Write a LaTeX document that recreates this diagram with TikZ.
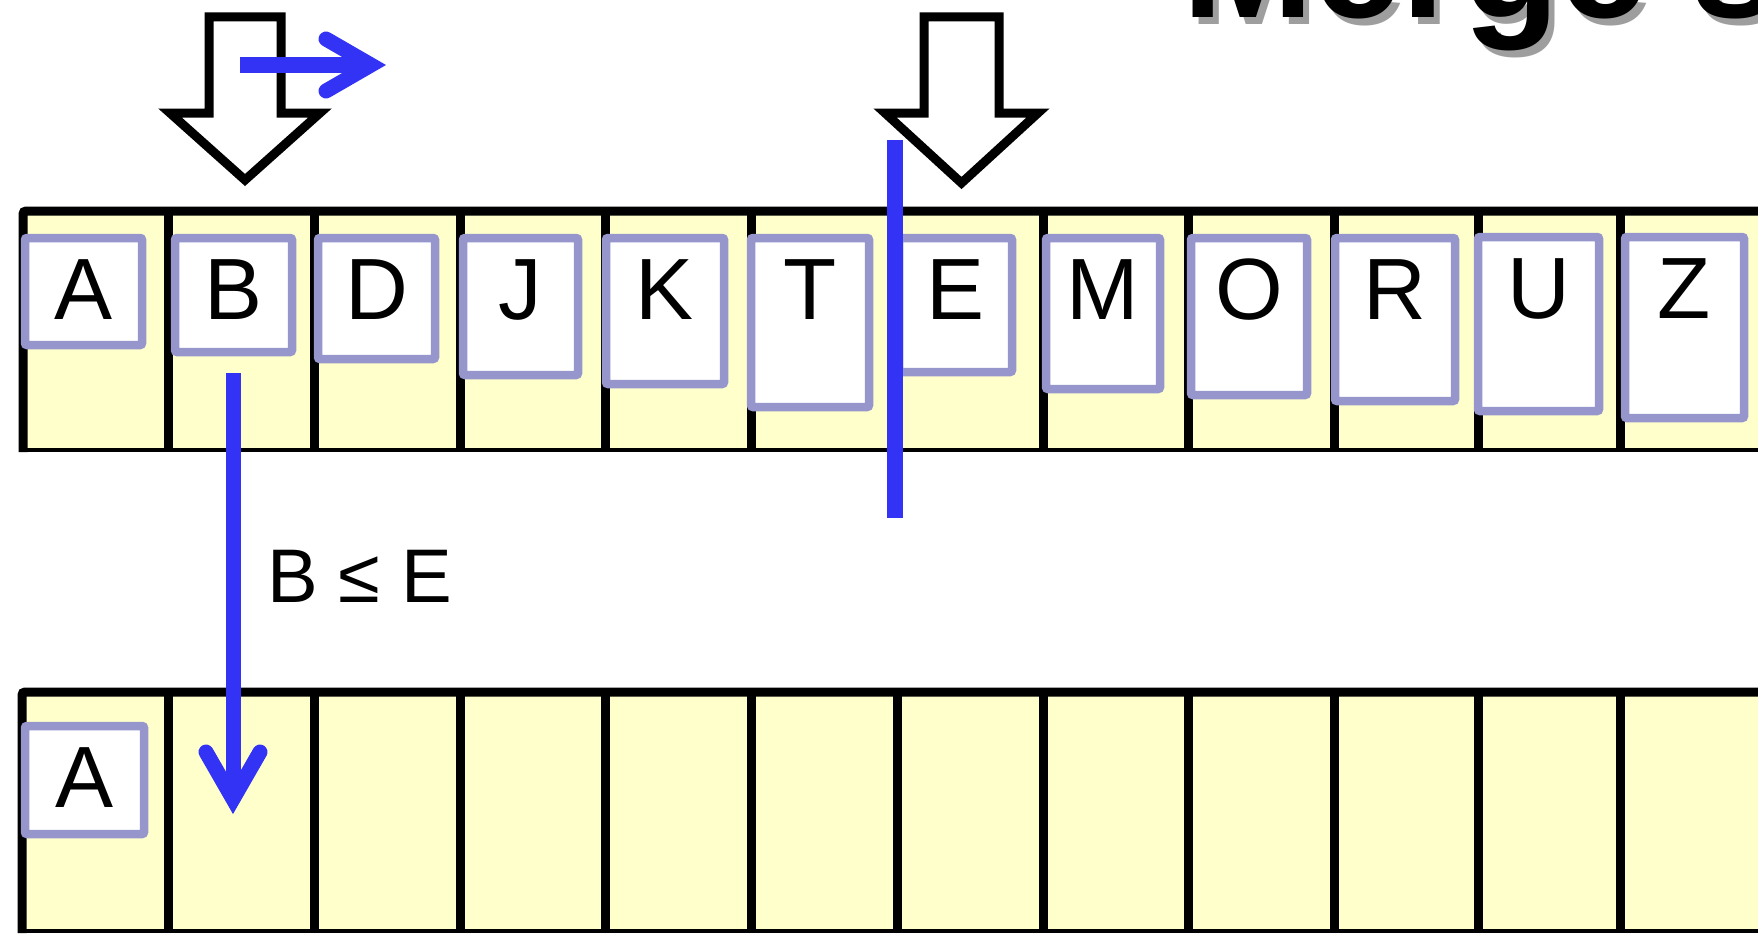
\documentclass[tikz,border=0pt]{standalone}
\usepackage{fontspec}
\setmainfont{Liberation Sans}
\definecolor{cellyellow}{RGB}{255,255,204}
\definecolor{lav}{RGB}{150,150,204}
\definecolor{pblue}{RGB}{51,51,245}
\tikzset{
  arrline/.style={line width=9pt, draw=black},
  lbox/.style={draw=lav, fill=white, line width=8.5pt, rounded corners=2pt,
    inner sep=0pt, outer sep=0pt, anchor=north west, text height=81pt,
    font=\fontsize{87}{87}\selectfont},
  blockarrow/.style={draw=black, fill=white, line width=9pt, line join=miter},
  blueshaft/.style={draw=pblue, line width=15pt},
  bluehead/.style={draw=pblue, line width=15pt, line cap=round, line join=miter},
  titlefont/.style={inner sep=0pt, anchor=base west, font=\fontsize{158}{158}\selectfont\bfseries},
}
\begin{document}
\begin{tikzpicture}[x=1pt,y=-1pt]
\useasboundingbox (0,0) rectangle (1758,934);
\clip (0,0) rectangle (1758,934);

% title (cut off at the top)
\node[titlefont, text=black!38] (titleshadow) at (1188,25) {Merge s};
\node[titlefont, text=black] (title) at (1182,18) {Merge s};

% top array
\fill[cellyellow] (22,211) rectangle (1775,450);
\foreach \x in {168,314,460,605,751,897,1043,1188,1334,1478,1620}
  \draw[arrline] (\x,211) -- (\x,450);
\draw[line width=4pt] (19,450) -- (1775,450);
\draw[line width=9pt, rounded corners=3pt] (23,452) -- (23,211) -- (1775,211);

% bottom array
\fill[cellyellow] (22,692) rectangle (1775,931);
\foreach \x in {168,314,460,605,751,897,1043,1188,1334,1478,1620}
  \draw[arrline] (\x,692) -- (\x,931);
\draw[line width=4pt] (19,931) -- (1775,931);
\draw[line width=9pt, rounded corners=3pt] (22,933) -- (22,692) -- (1775,692);

% letter boxes, top array
\node[lbox, minimum width=117pt, text depth=26pt] (tA) at (25,238) {A};
\node[lbox, minimum width=117pt, text depth=33pt] (tB) at (175,238) {B};
\node[lbox, minimum width=117pt, text depth=40pt] (tD) at (318,238) {D};
\node[lbox, minimum width=115pt, text depth=56pt] (tJ) at (463,238) {J};
\node[lbox, minimum width=118pt, text depth=65pt] (tK) at (606,238) {K};
\node[lbox, minimum width=118pt, text depth=88pt] (tT) at (751,238) {T};
\node[lbox, minimum width=113pt, text depth=53pt] (tE) at (899,238) {E};
\node[lbox, minimum width=114pt, text depth=70pt] (tM) at (1046,238) {M};
\node[lbox, minimum width=116pt, text depth=76pt] (tO) at (1191,238) {O};
\node[lbox, minimum width=120pt, text depth=82pt] (tR) at (1335,238) {R};
\node[lbox, minimum width=121pt, text depth=93pt] (tU) at (1478,237) {U};
\node[lbox, minimum width=119pt, text depth=100pt] (tZ) at (1625,237) {Z};

% letter box, bottom array
\node[lbox, minimum width=119pt, text depth=27pt] (bA) at (25,726) {A};

% comparison label
\node[inner sep=0pt, anchor=base west, font=\fontsize{76}{76}\selectfont] (cmp) at (267,602) {B ≤ E};

% hollow block arrows (pointers)
\draw[blockarrow] (209,17) -- (281,17) -- (281,113) -- (320,113) -- (245,180)
  -- (170,113) -- (209,113) -- cycle;
\draw[blockarrow] (924,17) -- (999,17) -- (999,113) -- (1038,113) -- (961.5,183)
  -- (885,113) -- (924,113) -- cycle;

% blue divider between the two halves
\coordinate (divtop) at (895,140);
\coordinate (divbot) at (895,518);
\draw[blueshaft, line width=16pt] (divtop) -- (divbot);

% blue advance arrow
\coordinate (advs) at (240,65);
\coordinate (advt) at (371,65);
\draw[blueshaft] (advs) -- (364,65);
\draw[bluehead] (326,39) -- (advt) -- (326,91);

% blue copy arrow from B to the output array
\coordinate (cps) at (233,373);
\coordinate (cpt) at (233,799);
\draw[blueshaft] (cps) -- (233,792);
\draw[bluehead] (206,752) -- (cpt) -- (260,752);
\end{tikzpicture}
\end{document}
